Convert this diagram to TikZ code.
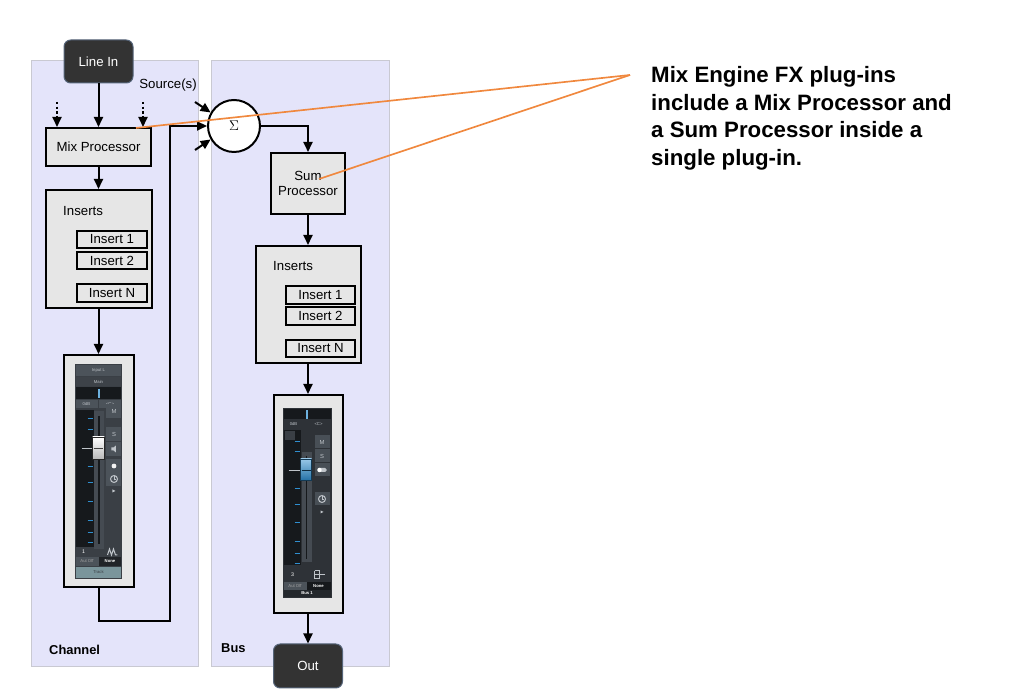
\documentclass[tikz,border=0pt]{standalone}
\usepackage{fontspec}
\setmainfont{Liberation Sans}
\usepackage{xcolor}
\usetikzlibrary{arrows.meta,calc,positioning}

\definecolor{lane}{HTML}{E4E4FA}
\definecolor{laneedge}{HTML}{C9C9D2}
\definecolor{boxfill}{HTML}{E6E6E6}
\definecolor{darkio}{HTML}{333333}
\definecolor{ioedge}{HTML}{56657A}
\definecolor{calloutline}{HTML}{F0883E}
\definecolor{stripbg}{HTML}{3A3F45}
\definecolor{stripbar}{HTML}{4C535A}
\definecolor{stripblack}{HTML}{16191C}
\definecolor{striptext}{HTML}{BFC4C9}
\definecolor{meterblue}{HTML}{2F8FD0}
\definecolor{trackbar}{HTML}{7A959B}

\begin{document}
\begin{tikzpicture}[
  lanebox/.style={fill=lane,draw=laneedge,line width=0.03cm},
  procbox/.style={draw=black,fill=boxfill,line width=0.06cm,inner sep=0,align=center,
    font=\fontsize{11.3}{13.5}\selectfont},
  insbox/.style={procbox,minimum width=2.1cm,minimum height=0.52cm},
  iobox/.style={fill=darkio,draw=ioedge,line width=0.03cm,rounded corners=0.2cm,text=white,
    minimum width=2.07cm,font=\fontsize{11.3}{13.5}\selectfont},
  flow/.style={-{Triangle[length=0.3cm,width=0.27cm]},line width=0.06cm},
  feed/.style={flow,dash pattern=on 0.07cm off 0.07cm},
  lanelabel/.style={font=\bfseries\fontsize{11}{13}\selectfont,anchor=west,inner sep=0},
  tinytext/.style={text=striptext,font=\fontsize{3.6}{4}\selectfont,inner sep=0},
  callout/.style={draw=calloutline,line width=0.05cm}
]
                \useasboundingbox (0,0) rectangle (30.72,20.79);
                {\fontsize{11.3}{13.5}\selectfont

                % Drawing lane channel
                \draw [lanebox] (0.93,0.78) rectangle (5.94,18.96);%

                % Drawing lane bus
                \draw [lanebox] (6.33,0.78) rectangle (11.67,18.96);%

                % Marking lane names
                \node [lanelabel] (chanlabel) at (1.47,1.29) {Channel};%
                \node [lanelabel] (buslabel) at (6.63,1.35) {Bus};%

                % Drawing box line in
                \node [iobox,minimum height=1.29cm] (linein) at (2.955,18.945) {Line In};%

                % Drawing box mix processor
                \node [procbox,minimum width=3.15cm,minimum height=1.14cm] (mix) at (2.955,16.38) {Mix Processor};%

                % Drawing feeds into mix processor
                \coordinate (srcl) at (1.71,17.73);%
                \coordinate (srcr) at (4.29,17.73);%
                \draw [flow] (linein.south) -- (mix.north);%
                \draw [feed] (srcl) -- (srcl |- mix.north);%
                \draw [feed] (srcr) -- (srcr |- mix.north);%

                % Marking sources
                \node (sources) at (5.04,18.24) {Source(s)};%

                % Drawing summing point
                \node [circle,draw=black,fill=white,line width=0.06cm,minimum size=1.56cm,inner sep=0,font=\large] (sum) at (7.02,17.01) {$\Sigma$};%
                \coordinate (inup) at (5.85,17.73);%
                \coordinate (indown) at (5.85,16.29);%
                \draw [flow] (inup) -- (sum.150);%
                \draw [flow] (indown) -- (sum.210);%

                % Drawing channel inserts
                \node [procbox,minimum width=3.18cm,minimum height=3.54cm] (ins1) at (2.955,13.32) {};%
                \node [anchor=west,inner sep=0] (ins1label) at (1.89,14.46) {Inserts};%
                \node [insbox] (ins1a) at (3.36,13.605) {Insert 1};%
                \node [insbox] (ins1b) at (3.36,12.975) {Insert 2};%
                \node [insbox] (ins1n) at (3.36,12.0) {Insert N};%
                \draw [flow] (mix.south) -- (ins1.north);%

                % Drawing channel fader
                \node [procbox,minimum width=2.1cm,minimum height=6.96cm] (fader1) at (2.955,6.66) {};%
                \draw [flow] (ins1.south) -- (fader1.north);%

                \begin{scope}[shift={(fader1.north west)},x=0.03cm,y=-0.03cm]
                % strip body and name bars
                \fill [stripbg] (12,10) rectangle (60,225);%
                \fill [stripbar] (13,11) rectangle (59,22);%
                \fill [stripbar!80!black] (13,23) rectangle (59,32);%
                \node [tinytext] (chin) at (36,16.5) {Input L};%
                \node [tinytext] (chmain) at (36,27.5) {Main};%
                \fill [stripblack] (13,33) rectangle (59,45);%
                \fill [meterblue!70!white] (35.5,35) rectangle (37.5,44);%
                \fill [stripbar] (13,46) rectangle (35,54);%
                \fill [stripbar] (36,46) rectangle (59,54);%
                \node [tinytext] (chdb) at (24,50) {0dB};%
                \node [tinytext] (chpan) at (47.5,50) {<C>};%
                % meter and fader
                \fill [stripblack] (13,56) rectangle (31,193);%
                \foreach \t in {64,75,112,128,147,166,178,188}
                  \draw [meterblue,line width=0.02cm] (25,\t) -- (30,\t);%
                \draw [striptext,line width=0.02cm] (19,94) -- (30,94);%
                \fill [stripbar!60!stripbg] (31,57) rectangle (42,195);%
                \draw [stripblack,line width=0.04cm] (36.5,62) -- (36.5,190);%
                \shade [top color=white,bottom color=gray!55,draw=gray!30!black,line width=0.01cm] (30,83) rectangle (42,105);%
                \draw [gray!50!black,line width=0.01cm] (31,94) -- (41,94);%
                % buttons
                \foreach \b in {57,80,95,112,125}
                  \fill [stripbar] (44,\b-7) rectangle (59,\b+7);%
                \node [tinytext,font=\fontsize{5}{5}\selectfont] (chm) at (51.5,57) {M};%
                \node [tinytext,font=\fontsize{5}{5}\selectfont] (chs) at (51.5,80) {S};%
                \fill [striptext] (49,93.5) rectangle (51,96.5) -- (51,93.5) -- (53.5,91.5) -- (53.5,98.5) -- (51,96.5) -- cycle;%
                \fill [white!90!gray] (51.5,112) circle [radius=2.4];%
                \draw [striptext,line width=0.03cm] (51.5,125) circle [radius=3.5];%
                \draw [striptext,line width=0.02cm] (51.5,125) -- (51.5,122.5) (51.5,125) -- (53.5,125);%
                \fill [striptext] (50,135.5) -- (53,137) -- (50,138.5) -- cycle;%
                % channel number and bottom rows
                \node [tinytext,text=white,font=\fontsize{4.5}{5}\selectfont] (chnum) at (21,198) {1};%
                \draw [striptext,line width=0.03cm] (45,201) -- (47,195) -- (49,201) -- (51,195) -- (53,201) -- (55,201);%
                \fill [stripbar] (13,203) rectangle (36,212);%
                \fill [stripblack!70!stripbg] (36,203) rectangle (59,212);%
                \node [tinytext,text=gray!70] (chauto) at (24.5,207.5) {Aut Off};%
                \node [tinytext,text=white,font=\bfseries\fontsize{3.6}{4}\selectfont] (chnone) at (47.5,207.5) {None};%
                \fill [trackbar] (13,213) rectangle (59,224);%
                \node [tinytext,text=stripbg] (chtrack) at (36,218.5) {Track};%
                \end{scope}

                % Drawing return to summing point
                \coordinate (turn) at (5.1,2.16);%
                \draw [flow] (fader1.south) |- (turn) |- (sum.west);%

                % Drawing box sum processor
                \node [procbox,minimum width=2.22cm,minimum height=1.83cm] (sumproc) at (9.24,15.285) {Sum\\Processor};%
                \draw [flow] (sum.east) -| (sumproc.north);%

                % Drawing bus inserts
                \node [procbox,minimum width=3.15cm,minimum height=3.51cm] (ins2) at (9.24,11.655) {};%
                \node [anchor=west,inner sep=0] (ins2label) at (8.19,12.81) {Inserts};%
                \node [insbox,minimum width=2.07cm] (ins2a) at (9.615,11.94) {Insert 1};%
                \node [insbox,minimum width=2.07cm] (ins2b) at (9.615,11.31) {Insert 2};%
                \node [insbox,minimum width=2.07cm] (ins2n) at (9.615,10.335) {Insert N};%
                \draw [flow] (sumproc.south) -- (ins2.north);%

                % Drawing bus fader
                \node [procbox,minimum width=2.07cm,minimum height=6.54cm] (fader2) at (9.24,5.67) {};%
                \draw [flow] (ins2.south) -- (fader2.north);%

                \begin{scope}[shift={(fader2.north west)},x=0.03cm,y=-0.03cm]
                % strip body
                \fill [stripbg!80!black] (10,14) rectangle (59,204);%
                \fill [stripblack] (11,15) rectangle (58,25);%
                \fill [meterblue!70!white] (33,16) rectangle (35,25);%
                \node [tinytext] (budb) at (21,30) {0dB};%
                \node [tinytext] (bupan) at (46,30) {<C>};%
                % meter and fader
                \fill [stripblack] (11,36) rectangle (28,171);%
                \fill [stripbg] (12,37) rectangle (22,46);%
                \foreach \t in {47,57,94,110,128,147,159,169}
                  \draw [meterblue,line width=0.02cm] (22,\t) -- (27,\t);%
                \draw [striptext,line width=0.02cm] (16,76) -- (27,76);%
                \fill [stripbar!60!stripbg] (29,58) rectangle (39,168);%
                \draw [stripblack,line width=0.04cm] (34,62) -- (34,165);%
                \shade [top color=meterblue!50!white,bottom color=meterblue!80!black,draw=meterblue!40!black,line width=0.01cm] (28,65) rectangle (39,86);%
                \draw [meterblue!30!black,line width=0.01cm] (29,76) -- (38,76);%
                % buttons
                \foreach \b in {48,62,76,105}
                  \fill [stripbar!80!stripbg] (42,\b-6.5) rectangle (57,\b+6.5);%
                \node [tinytext,font=\fontsize{5}{5}\selectfont] (bum) at (49.5,48) {M};%
                \node [tinytext,font=\fontsize{5}{5}\selectfont] (bus) at (49.5,62) {S};%
                \fill [striptext,rounded corners=0.04cm] (45,74) rectangle (54,78);%
                \fill [white] (47,76) circle [radius=2.2];%
                \draw [striptext,line width=0.03cm] (49.5,105) circle [radius=3.5];%
                \draw [striptext,line width=0.02cm] (49.5,105) -- (49.5,102.5) (49.5,105) -- (51.5,105);%
                \fill [striptext] (48,116.5) -- (51,118) -- (48,119.5) -- cycle;%
                % bus number and bottom rows
                \node [tinytext,text=white,font=\fontsize{4.5}{5}\selectfont] (bunum) at (20,181) {3};%
                \draw [striptext,line width=0.03cm] (42,177) -- (42,185) (42,177) -- (47,177) (42,185) -- (47,185) (42,181) -- (52,181) (47,177) -- (47,185);%
                \fill [stripbar] (11,188) rectangle (34,196);%
                \fill [stripblack] (34,188) rectangle (58,196);%
                \node [tinytext,text=gray!70] (buauto) at (22.5,192) {Aut Off};%
                \node [tinytext,text=white,font=\bfseries\fontsize{3.6}{4}\selectfont] (bunone) at (46,192) {None};%
                \fill [stripblack!60!stripbg] (11,196) rectangle (58,203);%
                \node [tinytext,text=white,font=\bfseries\fontsize{3.6}{4}\selectfont] (buname) at (34.5,199.5) {Bus 1};%
                \end{scope}

                % Drawing box out
                \node [iobox,minimum height=1.32cm] (out) at (9.24,0.81) {Out};%
                \draw [flow] (fader2.south) -- (out.north);%

                % Drawing callout lines
                \coordinate (callpt) at (18.9,18.54);%
                \coordinate (tipmix) at (4.08,16.95);%
                \coordinate (tipsum) at (9.57,15.42);%
                \draw [callout] (callpt) -- (tipmix);%
                \draw [callout] (callpt) -- (tipsum);%

                % Marking note
                \node [anchor=north west,inner sep=0,align=left,font=\bfseries\fontsize{19}{23.6}\selectfont] (note) at (19.53,18.81)
                  {Mix Engine FX plug-ins\\include a Mix Processor and\\a Sum Processor inside a\\single plug-in.};%
                }
            \end{tikzpicture}
\end{document}
